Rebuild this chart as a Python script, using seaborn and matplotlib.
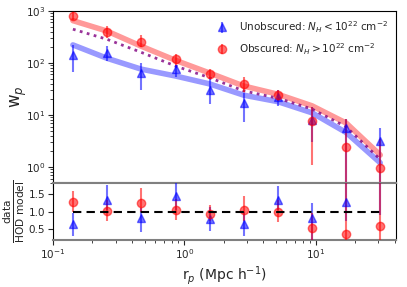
import numpy as np
import pandas as pd
import matplotlib
matplotlib.use("Agg")
import matplotlib.pyplot as plt
import seaborn as sns

# ---- data ----
rp = [0.142, 0.258, 0.47, 0.86, 1.56, 2.84, 5.17, 9.4, 17.1, 31.1]

obs_wp = [800, 400, 257, 118, 61, 39.5, 24, 7.8, 2.4, 0.94]
obs_hi = [970, 515, 350, 146, 78, 54, 30, 14, 8.3, 3.5]
obs_lo = [665, 307, 206, 90, 50, 28, 18.6, 1.1, 0.1, 0.1]

unobs_wp = [142, 154, 64, 78, 30, 16.7, 22, 8, 5.7, 3.16]
unobs_hi = [225, 210, 100, 92, 50, 26, 30, 14, 8.3, 5.6]
unobs_lo = [68, 108, 30, 53, 16, 7.4, 15, 3, 0.1, 0.1]

model_obs = [650, 410, 210, 112, 64, 36, 25, 15, 7, 1.7]
model_unobs = [222, 123, 76, 56, 39.5, 24, 18, 11, 4.6, 1.2]
model_all = [445, 285, 160, 87, 52, 29, 21, 13, 5.9, 1.4]

obs_ratio = [1.26, 1.02, 1.25, 1.05, 0.93, 1.05, 1.0, 0.53, 0.36, 0.58]
obs_r_hi = [1.59, 1.32, 1.65, 1.36, 1.18, 1.45, 1.32, 0.95, 2.5, 2.5]
obs_r_lo = [1.0, 0.73, 1.0, 0.75, 0.73, 0.73, 0.7, 0.05, 0.05, 0.05]

unobs_ratio = [0.66, 1.32, 0.82, 1.45, 0.79, 0.66, 1.32, 0.82, 1.27, 2.6]
unobs_r_hi = [0.96, 1.75, 1.09, 1.85, 1.14, 1.0, 1.73, 1.23, 2.2, 4.0]
unobs_r_lo = [0.32, 1.05, 0.41, 1.05, 0.45, 0.32, 1.05, 0.15, 0.73, 0.9]

labels = ["Unobscured: $N_H < 10^{22}$ cm$^{-2}$",
          "Obscured: $N_H > 10^{22}$ cm$^{-2}$"]

sns.set_style("ticks")
plt.rcParams['font.family'] = ['DejaVu Sans']

fig = plt.figure(figsize=(4.07, 2.87), dpi=100)
ax = fig.add_axes([0.130, 0.362, 0.843, 0.600])
axr = fig.add_axes([0.130, 0.164, 0.843, 0.198], sharex=ax)

df = pd.DataFrame({"rp": rp, "mo": model_obs, "mu": model_unobs, "ma": model_all})
sns.lineplot(data=df, x="rp", y="mo", ax=ax, color="red", alpha=0.4, lw=4, zorder=1)
sns.lineplot(data=df, x="rp", y="mu", ax=ax, color="blue", alpha=0.4, lw=4, zorder=1)
sns.lineplot(data=df, x="rp", y="ma", ax=ax, color="purple", alpha=0.8, lw=2,
             linestyle=(0, (1, 1.6)), zorder=2)

def err(v, lo, hi):
    v = np.array(v); return [v - np.array(lo), np.array(hi) - v]

eb_u = ax.errorbar(rp, unobs_wp, yerr=err(unobs_wp, unobs_lo, unobs_hi), fmt="^",
                   color="blue", alpha=0.55, ms=6, elinewidth=1.5, capsize=0, zorder=3)
eb_o = ax.errorbar(rp, obs_wp, yerr=err(obs_wp, obs_lo, obs_hi), fmt="o",
                   color="red", alpha=0.55, ms=6, elinewidth=1.5, capsize=0, zorder=3)

ax.set_xscale("log")
ax.set_yscale("log")
ax.set_xlim(0.1, 41)
ax.set_ylim(0.49, 1000)
ax.set_ylabel("w$_p$", fontsize=12)
ax.yaxis.set_label_coords(-0.07, 0.5)
ax.tick_params(labelbottom=False, labelsize=7.5, pad=2)
ax.legend([eb_u, eb_o], labels, loc="upper right", frameon=False, fontsize=7.5,
          handletextpad=0.6, borderaxespad=0.4, labelspacing=0.6)

axr.errorbar(rp, unobs_ratio, yerr=err(unobs_ratio, unobs_r_lo, unobs_r_hi), fmt="^",
             color="blue", alpha=0.55, ms=6, elinewidth=1.5, capsize=0, zorder=3)
axr.errorbar(rp, obs_ratio, yerr=err(obs_ratio, obs_r_lo, obs_r_hi), fmt="o",
             color="red", alpha=0.55, ms=6, elinewidth=1.5, capsize=0, zorder=3)
sns.lineplot(x=[rp[0], rp[-1]], y=[1.0, 1.0], ax=axr, color="black", lw=1.5,
             linestyle=(0, (4, 2.5)), zorder=4)
axr.set_ylim(0.2, 1.8)
axr.set_yticks([0.5, 1.0, 1.5])
axr.set_xlim(0.1, 41)
axr.tick_params(labelsize=7.5, pad=2)
axr.set_xlabel("r$_p$ (Mpc h$^{-1}$)", fontsize=10, labelpad=2)
axr.set_ylabel(r"$\frac{\rm data}{\rm HOD\ model}$", fontsize=11)
axr.yaxis.set_label_coords(-0.075, 0.5)

for a in (ax, axr):
    for s in a.spines.values():
        s.set_color("black")
ax.spines["bottom"].set_color("gray")
ax.spines["bottom"].set_linewidth(1.5)
axr.spines["top"].set_color("gray")
axr.spines["top"].set_linewidth(1.5)
axr.spines["bottom"].set_color("gray")
axr.spines["bottom"].set_linewidth(1.5)

fig.savefig("out.png", dpi=100)
